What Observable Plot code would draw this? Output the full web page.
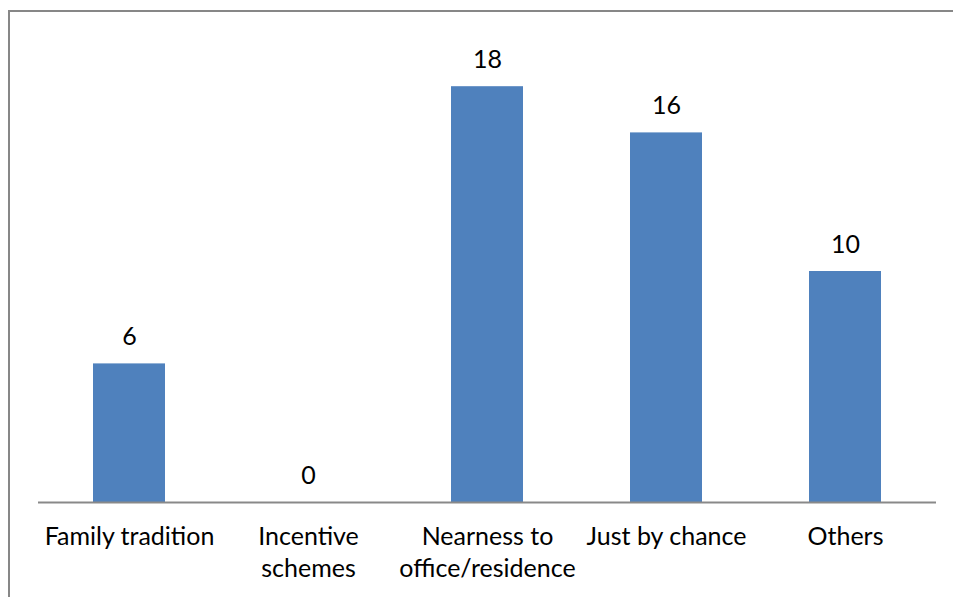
<!DOCTYPE html>
<html>
<head>
<meta charset="utf-8">
<script src="https://cdn.jsdelivr.net/npm/d3@7"></script>
<script src="https://cdn.jsdelivr.net/npm/@observablehq/plot@0.6"></script>
<style>
  html, body { margin: 0; padding: 0; background: #fff; }
  #wrap { position: relative; width: 953px; height: 597px; overflow: hidden; }
  #border { position: absolute; left: 8px; top: 10px; width: 1000px; height: 1000px;
            border-top: 2px solid #878787; border-left: 2px solid #878787; box-sizing: border-box; }
  #chart { position: absolute; left: 0; top: 0; }
</style>
</head>
<body>
<div id="wrap"><div id="border"></div><div id="chart"></div></div>
<script>
const categories = ["Family tradition", "Incentive\nschemes", "Nearness to\noffice/residence", "Just by chance", "Others"];
const values = [6, 0, 18, 16, 10];

const data = categories.map((c, i) => ({category: c, value: values[i]}));

const chart = Plot.plot({
  width: 953,
  height: 597,
  marginLeft: 38,
  marginRight: 17,
  marginTop: 40,
  marginBottom: 95,
  style: {fontFamily: "Lato, 'Open Sans', sans-serif", color: "#000", background: "transparent"},
  x: {domain: categories, paddingInner: 0.6, paddingOuter: 0.3, align: 0.5},
  y: {domain: [0, 20], axis: null},
  marks: [
    Plot.barY(data, {x: "category", y: "value", fill: "#4F81BD"}),
    Plot.ruleY([0], {stroke: "#898989", strokeWidth: 2}),
    Plot.text(data, {x: "category", y: "value", text: d => String(d.value), lineAnchor: "bottom", dy: -19, fontSize: 25, fill: "#000"}),
    Plot.axisX({tickSize: 0, tickPadding: 20, fontSize: 25, lineHeight: 1.28, label: null, fill: "#000"})
  ]
});
document.getElementById("chart").appendChild(chart);
</script>
</body>
</html>
